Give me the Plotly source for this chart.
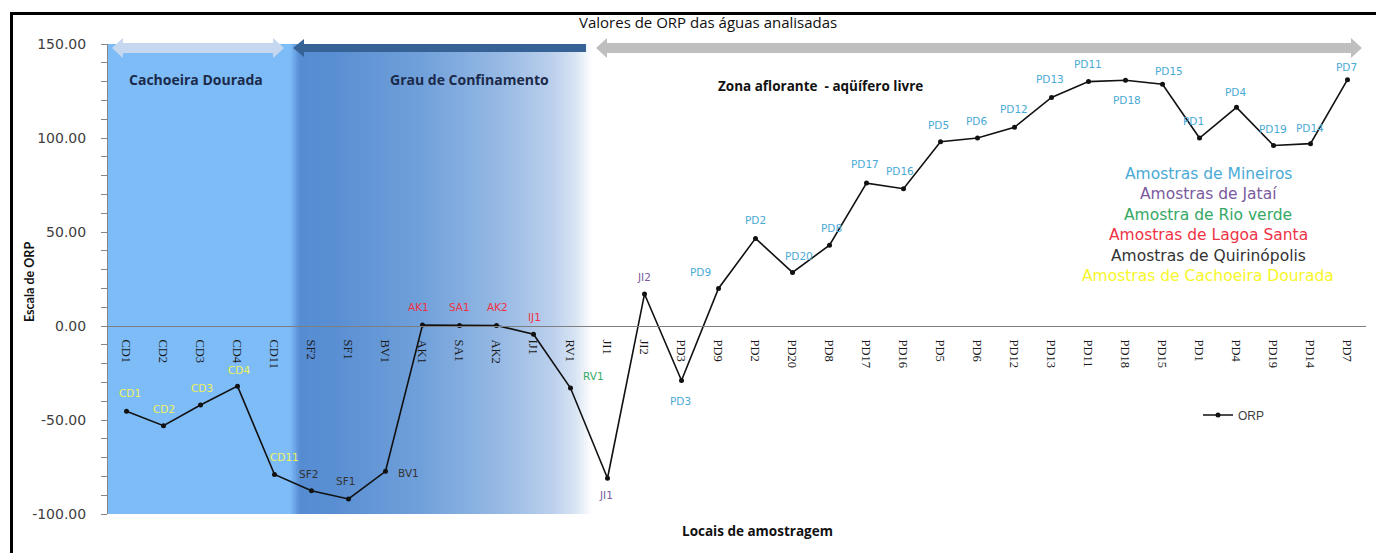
import plotly.graph_objects as go

# ---- data -----------------------------------------------------------------
sites = ["CD1", "CD2", "CD3", "CD4", "CD11", "SF2", "SF1", "BV1", "AK1", "SA1",
         "AK2", "IJ1", "RV1", "JI1", "JI2", "PD3", "PD9", "PD2", "PD20", "PD8",
         "PD17", "PD16", "PD5", "PD6", "PD12", "PD13", "PD11", "PD18", "PD15",
         "PD1", "PD4", "PD19", "PD14", "PD7"]
orp = [-45.4, -53.0, -42.0, -32.0, -79.0, -87.6, -92.0, -77.3, 0.5, 0.3,
       0.3, -4.4, -33.0, -81.0, 17.0, -29.0, 20.0, 46.6, 28.5, 43.0,
       76.0, 73.0, 98.0, 100.0, 105.7, 121.6, 130.0, 130.7, 128.6,
       100.0, 116.3, 96.0, 97.0, 131.0]
region = (["Cachoeira Dourada"] * 5 + ["Quirinópolis"] * 3 + ["Lagoa Santa"] * 4
          + ["Rio verde"] + ["Jataí"] * 2 + ["Mineiros"] * 19)

y_ticks = [-100, -50, 0, 50, 100, 150]
y_tick_text = ["-100.00", "-50.00", "0.00", "50.00", "100.00", "150.00"]

legend_lines = ["Amostras de Mineiros", "Amostras de Jataí", "Amostra de Rio verde",
                "Amostras de Lagoa Santa", "Amostras de Quirinópolis",
                "Amostras de Cachoeira Dourada"]
legend_keys = ["Mineiros", "Jataí", "Rio verde", "Lagoa Santa", "Quirinópolis",
               "Cachoeira Dourada"]

# ---- styling --------------------------------------------------------------
W, H = 1376, 553
L, R, T, B = 108, 10, 44, 39
PW, PH = W - L - R, H - T - B

region_color = {
    "Mineiros": "#4aaad6",
    "Jataí": "#7b5a9e",
    "Rio verde": "#35a865",
    "Lagoa Santa": "#ee3346",
    "Quirinópolis": "#333333",
    "Cachoeira Dourada": "#f6f62a",
}
label_color = dict(region_color)
label_color["Cachoeira Dourada"] = "#eef25a"

# label offsets in pixels (dx right, dy down) relative to each marker
label_offset = {
    "CD1": (3, -18), "CD2": (0, -17), "CD3": (1, -17), "CD4": (1, -16),
    "CD11": (10, -18), "SF2": (-3, -17), "SF1": (-3, -18), "BV1": (23, 2),
    "AK1": (-4, -18), "SA1": (0, -18), "AK2": (1, -18), "IJ1": (1, -17),
    "RV1": (23, -12), "JI1": (-2, 17), "JI2": (-1, -17), "PD3": (-1, 20),
    "PD9": (-18, -16), "PD2": (0, -18), "PD20": (6, -16), "PD8": (2, -17),
    "PD17": (-2, -19), "PD16": (-4, -18), "PD5": (-2, -17), "PD6": (-1, -17),
    "PD12": (-1, -18), "PD13": (-2, -18), "PD11": (-1, -18), "PD18": (1, 20),
    "PD15": (6, -13), "PD1": (-6, -17), "PD4": (-1, -15), "PD19": (-1, -17),
    "PD14": (-1, -16), "PD7": (-1, -13),
}


def px(x):
    return (x - L) / PW


def py(y):
    return (H - B - y) / PH


def lerp(c1, c2, t):
    return tuple(round(a + (b - a) * t) for a, b in zip(c1, c2))


shapes = []

# light-blue band behind the Cachoeira Dourada samples
shapes.append(dict(type="rect", xref="paper", yref="paper", layer="below",
                   x0=px(L), x1=px(294), y0=py(514), y1=py(44),
                   fillcolor="#7ebcf8", line=dict(width=0)))

# blue gradient for the confinement zone, fading to white
stops = [(290, (126, 188, 248)), (300, (86, 140, 210)), (330, (88, 142, 210)),
         (420, (112, 160, 218)), (500, (150, 185, 228)), (550, (185, 206, 236)),
         (575, (215, 228, 243)), (592, (255, 255, 255))]
step = 2
x = 290
while x < 592:
    xm = x + step / 2
    for (a, ca), (b, cb) in zip(stops[:-1], stops[1:]):
        if a <= xm <= b:
            c = lerp(ca, cb, (xm - a) / (b - a))
            break
    shapes.append(dict(type="rect", xref="paper", yref="paper", layer="below",
                       x0=px(x), x1=px(x + step + 0.6), y0=py(514), y1=py(44),
                       fillcolor="rgb(%d,%d,%d)" % c, line=dict(width=0)))
    x += step


def arrow(x0, x1, yc, color, left=True, right=True, half=5, head_half=10, head_len=11):
    pts = []
    if left:
        pts += [(x0, yc), (x0 + head_len, yc - head_half), (x0 + head_len, yc - half)]
    else:
        pts += [(x0, yc - half)]
    if right:
        pts += [(x1 - head_len, yc - half), (x1 - head_len, yc - head_half), (x1, yc),
                (x1 - head_len, yc + head_half), (x1 - head_len, yc + half)]
    else:
        pts += [(x1, yc - half), (x1, yc + half)]
    if left:
        pts += [(x0 + head_len, yc + half), (x0 + head_len, yc + head_half)]
    else:
        pts += [(x0, yc + half)]
    path = "M " + " L ".join("%.5f,%.5f" % (px(a), py(b)) for a, b in pts) + " Z"
    return dict(type="path", xref="paper", yref="paper", path=path,
                fillcolor=color, line=dict(width=0), layer="above")


shapes.append(arrow(112, 284, 48, "#c6d8ef"))
shapes.append(arrow(293, 586, 48, "#366295", right=False, half=4, head_half=9))
shapes.append(arrow(596, 1362, 48, "#bfbfbf"))

# outer frame of the chart
shapes.append(dict(type="rect", xref="paper", yref="paper",
                   x0=px(11.5), x1=px(1400), y0=py(600), y1=py(13.5),
                   line=dict(color="black", width=3), fillcolor="rgba(0,0,0,0)"))

annotations = []

# point labels, coloured by sampling region
for name, val, reg in zip(sites, orp, region):
    dx, dy = label_offset[name]
    annotations.append(dict(x=name, y=val, xref="x", yref="y", text=name,
                            showarrow=False, xshift=dx, yshift=-dy,
                            xanchor="center", yanchor="middle",
                            font=dict(family="DejaVu Sans", size=10.5,
                                      color=label_color[reg])))


def note(xp, yp, text, font, angle=0):
    return dict(x=px(xp), y=py(yp), xref="paper", yref="paper", text=text,
                showarrow=False, xanchor="center", yanchor="middle",
                textangle=angle, font=font)


# region legend text block
for i, (txt, key) in enumerate(zip(legend_lines, legend_keys)):
    annotations.append(note(1208, 174 + i * 20.4, txt,
                            dict(family="DejaVu Sans", size=15.5, color=region_color[key])))

# zone captions, titles
zone_font = dict(family="Open Sans", size=14, color="#1b2a4a")
annotations += [
    note(196, 79, "<b>Cachoeira Dourada</b>", zone_font),
    note(469, 79, "<b>Grau de Confinamento</b>", zone_font),
    note(820, 86, "<b>Zona aflorante  - aqüífero livre</b>",
         dict(family="Open Sans", size=13.5, color="#111111")),
    note(708, 22, "Valores de ORP das águas analisadas",
         dict(family="Open Sans", size=15, color="#111111")),
    note(757, 531, "<b>Locais de amostragem</b>",
         dict(family="Open Sans", size=13.5, color="#111111")),
    note(29, 282, "<b>Escala de ORP</b>",
         dict(family="Liberation Sans Narrow, Lato", size=12.5, color="#111111"), -90),
]

fig = go.Figure()
fig.add_trace(go.Scatter(
    x=sites, y=orp, name="ORP", mode="lines+markers",
    line=dict(color="#111111", width=1.6),
    marker=dict(color="#111111", size=5),
))

fig.update_layout(
    width=W, height=H,
    margin=dict(l=L, r=R, t=T, b=B),
    paper_bgcolor="white", plot_bgcolor="rgba(0,0,0,0)",
    shapes=shapes, annotations=annotations,
    showlegend=True,
    legend=dict(x=px(1198), y=py(415), xanchor="left", yanchor="middle",
                bgcolor="rgba(0,0,0,0)", font=dict(family="Liberation Sans", size=12,
                                                    color="#404040")),
    xaxis=dict(type="category", range=[-0.5, len(sites) - 0.5],
               anchor="free", position=100 / 250,
               showline=True, linecolor="#7f7f7f", linewidth=1,
               showgrid=False, ticks="", tickangle=90, ticklabelstandoff=10,
               tickfont=dict(family="Liberation Serif", size=12.5, color="#1a1a1a")),
    yaxis=dict(range=[-100, 150], tickvals=y_ticks, ticktext=y_tick_text,
               showline=True, linecolor="#868686", linewidth=1,
               showgrid=False, zeroline=False,
               ticks="outside", ticklen=6, tickcolor="#868686",
               minor=dict(dtick=10, ticks="outside", ticklen=6, tickcolor="#868686"),
               ticklabelstandoff=12,
               tickfont=dict(family="DejaVu Sans", size=14, color="#404040")),
)

fig.write_html("out.html")
